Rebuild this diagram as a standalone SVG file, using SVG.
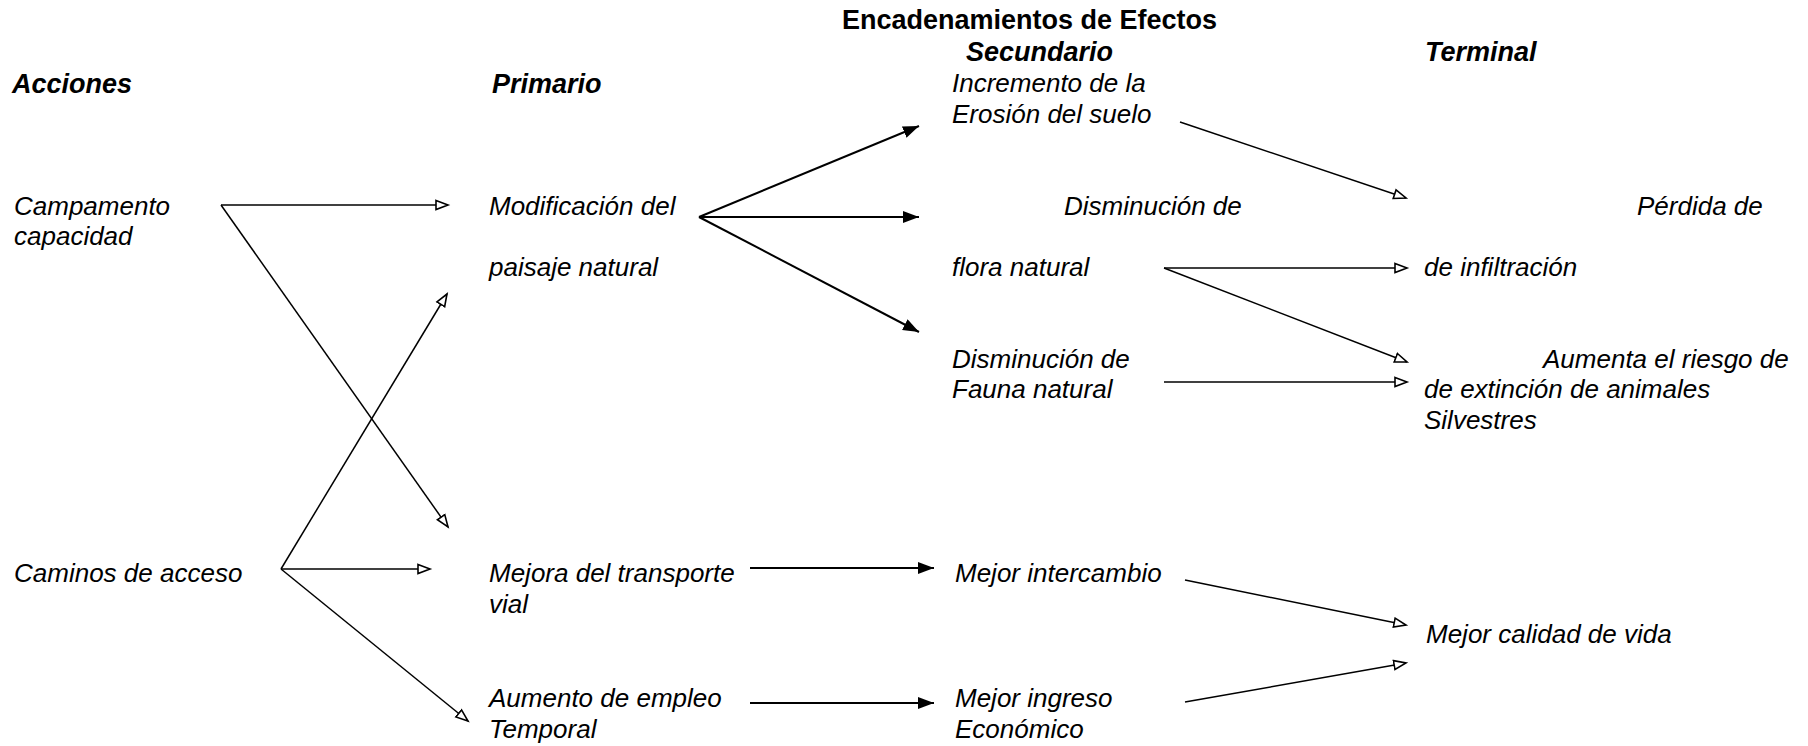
<svg xmlns="http://www.w3.org/2000/svg" width="1808" height="746" viewBox="0 0 1808 746">
<style>
text{font-family:"Liberation Sans",Arial,sans-serif;font-size:26px;fill:#000}
.n{font-style:italic}
.h{font-style:italic;font-weight:bold;font-size:27px}
.t{font-weight:bold;font-size:27px}
.c{fill:none;stroke:#000;stroke-width:1.5}
.o{marker-end:url(#open)}
.f{marker-end:url(#fill);stroke-width:2}
</style>
<defs>
<marker id="open" markerUnits="userSpaceOnUse" markerWidth="16" markerHeight="14" refX="13" refY="6" orient="auto" viewBox="0 0 16 14">
<path d="M1,1.5 L13,6 L1,10.5 Z" fill="#fff" stroke="#000" stroke-width="1.6"/>
</marker>
<marker id="fill" markerUnits="userSpaceOnUse" markerWidth="18" markerHeight="14" refX="16" refY="6" orient="auto" viewBox="0 0 18 14">
<path d="M0,0 L16,6 L0,12 Z" fill="#000"/>
</marker>
</defs>
<rect width="1808" height="746" fill="#fff"/>
<g id="headers">
<text class="t" x="842" y="29">Encadenamientos de Efectos</text>
<text class="h" x="12" y="93">Acciones</text>
<text class="h" x="492" y="93">Primario</text>
<text class="h" x="966" y="61">Secundario</text>
<text class="h" x="1425" y="61">Terminal</text>
</g>
<g id="campamento"><text class="n" x="14" y="215">Campamento</text><text class="n" x="14" y="245">capacidad</text></g>
<g id="caminos"><text class="n" x="14" y="582">Caminos de acceso</text></g>
<g id="modificacion"><text class="n" x="489" y="215">Modificación del</text><text class="n" x="489" y="276">paisaje natural</text></g>
<g id="mejora-transporte"><text class="n" x="489" y="582">Mejora del transporte</text><text class="n" x="489" y="613">vial</text></g>
<g id="aumento-empleo"><text class="n" x="489" y="707">Aumento de empleo</text><text class="n" x="489" y="738">Temporal</text></g>
<g id="erosion"><text class="n" x="952" y="92">Incremento de la</text><text class="n" x="952" y="123">Erosión del suelo</text></g>
<g id="flora"><text class="n" x="1064" y="215">Disminución de</text><text class="n" x="952" y="276">flora natural</text></g>
<g id="fauna"><text class="n" x="952" y="368">Disminución de</text><text class="n" x="952" y="398">Fauna natural</text></g>
<g id="intercambio"><text class="n" x="955" y="582">Mejor intercambio</text></g>
<g id="ingreso"><text class="n" x="955" y="707">Mejor ingreso</text><text class="n" x="955" y="738">Económico</text></g>
<g id="infiltracion"><text class="n" x="1637" y="215">Pérdida de</text><text class="n" x="1424" y="276">de infiltración</text></g>
<g id="riesgo"><text class="n" x="1543" y="368">Aumenta el riesgo de</text><text class="n" x="1424" y="398">de extinción de animales</text><text class="n" x="1424" y="429">Silvestres</text></g>
<g id="calidad"><text class="n" x="1426" y="643">Mejor calidad de vida</text></g>
<g id="connectors">
<line class="c o" x1="221" y1="205" x2="448" y2="205"/>
<line class="c o" x1="221" y1="205" x2="448" y2="527"/>
<line class="c o" x1="281" y1="569" x2="447" y2="294"/>
<line class="c o" x1="281" y1="569" x2="430" y2="569"/>
<line class="c o" x1="281" y1="569" x2="468" y2="721"/>
<line class="c f" x1="699" y1="217" x2="919" y2="126"/>
<line class="c f" x1="699" y1="217" x2="919" y2="217"/>
<line class="c f" x1="699" y1="217" x2="919" y2="332"/>
<line class="c o" x1="1180" y1="122" x2="1406" y2="198"/>
<line class="c o" x1="1164" y1="268" x2="1407" y2="268"/>
<line class="c o" x1="1164" y1="268" x2="1407" y2="362"/>
<line class="c o" x1="1164" y1="382" x2="1407" y2="382"/>
<line class="c f" x1="750" y1="568" x2="934" y2="568"/>
<line class="c f" x1="750" y1="703" x2="934" y2="703"/>
<line class="c o" x1="1185" y1="580" x2="1406" y2="625"/>
<line class="c o" x1="1185" y1="702" x2="1406" y2="663"/>
</g>
</svg>
